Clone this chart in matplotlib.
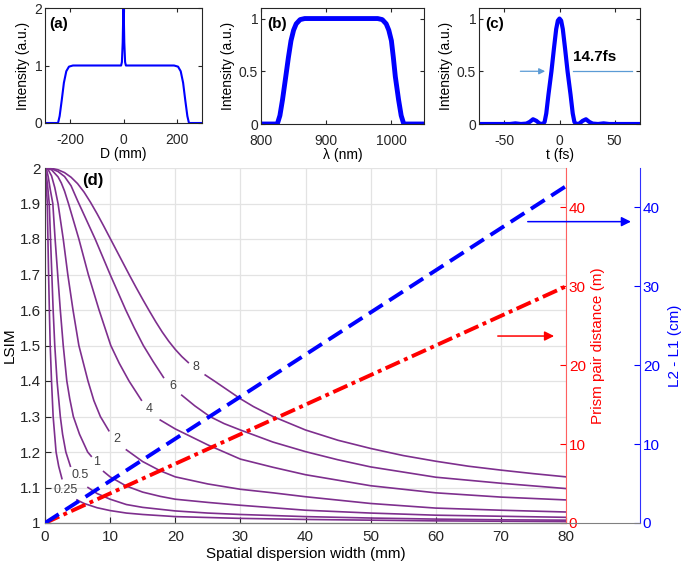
import numpy as np
import matplotlib.pyplot as plt

plt.rcParams['font.family'] = ['Liberation Sans', 'DejaVu Sans']
plt.rcParams['axes.unicode_minus'] = False

# ---- panel (a): beam profile
a_x = [-295, -246, -240, -232, -224, -215, -205, -190, -9, -6, -3, -1, 0,
       1, 3, 6, 9, 190, 205, 215, 224, 232, 240, 246, 295]
a_y = [0, 0, 0.12, 0.4, 0.7, 0.9, 0.98, 1.0, 1.0, 1.06, 1.4, 1.9, 2.0,
       1.9, 1.4, 1.06, 1.0, 1.0, 0.98, 0.9, 0.7, 0.4, 0.12, 0, 0]

# ---- panel (b): spectrum
b_x = [800, 825, 829, 833, 838, 842, 846, 850, 854, 860, 867, 979, 986, 992, 996, 1000,
       1003, 1006, 1011, 1015, 1019, 1050]
b_y = [0, 0, 0.08, 0.23, 0.45, 0.63, 0.79, 0.89, 0.95, 0.99, 1.0, 1.0, 0.99, 0.95, 0.89,
       0.79, 0.63, 0.45, 0.23, 0.08, 0, 0]

# ---- panel (c): pulse
c_x = [-73, -45, -40, -35, -30, -27, -24, -21, -18, -15, -13.5, -12, -10, -7.3, -5, -3,
       -1.5, 0, 1.5, 3, 5, 7.3, 10, 12, 13.5, 15, 18, 21, 24, 27, 30, 35, 40, 45, 73]
c_y = [0, 0, 0.006, 0, 0.004, 0.02, 0.045, 0.03, 0.004, 0, 0.02, 0.1, 0.28, 0.5, 0.72, 0.9,
       0.98, 1.0, 0.98, 0.9, 0.72, 0.5, 0.28, 0.1, 0.02, 0, 0.004, 0.03, 0.045, 0.02, 0.004, 0,
       0.006, 0, 0]

# ---- panel (d): LSIM curves, each split in two pieces around its label
levels = ['8', '6', '4', '2', '1', '0.5', '0.25']
lsim_a_w = [
    [0, 1, 2, 3, 4, 5, 6, 7, 8, 9, 10, 11, 12, 13, 14, 15, 16, 17, 18, 19, 20, 21, 22],
    [0, 1, 2, 3, 4, 5, 6.4, 7.7, 8.85, 10, 11.2, 12.4, 13.7, 15.1, 16.6, 18.2],
    [0, 1, 2, 2.5, 3, 3.6, 4.4, 5.2, 6.65, 8.3, 10.1, 11.4, 12.9, 14.8],
    [0, 0.5, 1, 1.5, 2, 2.8, 3.5, 4.3, 5.2, 5.9, 6.6, 7.5, 8.5, 9.8],
    [0, 0.25, 0.5, 0.8, 1.2, 1.55, 1.95, 2.35, 2.8, 3.35, 3.8, 4.35, 5.3, 6.55, 7.1],
    [0, 0.2, 0.4, 0.65, 0.85, 1.05, 1.25, 1.5, 1.85, 2.35, 2.7, 3.2, 3.9],
    [0, 0.1, 0.2, 0.35, 0.45, 0.55, 0.67, 0.8, 1.0, 1.25, 1.7, 2.1, 2.6],
]
lsim_a_v = [
    [2.0, 1.999, 1.995, 1.987, 1.974, 1.956, 1.932, 1.903, 1.871, 1.837, 1.802, 1.767,
     1.732, 1.697, 1.663, 1.63, 1.598, 1.567, 1.538, 1.512, 1.489, 1.469, 1.452],
    [2.0, 1.998, 1.99, 1.976, 1.95, 1.908, 1.852, 1.80, 1.75, 1.70, 1.65, 1.60, 1.55,
     1.50, 1.455, 1.41],
    [2.0, 1.995, 1.975, 1.958, 1.935, 1.90, 1.85, 1.80, 1.70, 1.60, 1.50, 1.45, 1.40, 1.346],
    [2.0, 1.995, 1.978, 1.945, 1.90, 1.80, 1.70, 1.60, 1.50, 1.45, 1.40, 1.345, 1.30, 1.26],
    [2.0, 1.995, 1.975, 1.94, 1.90, 1.80, 1.70, 1.60, 1.50, 1.40, 1.35, 1.30, 1.25, 1.20,
     1.188],
    [2.0, 1.98, 1.95, 1.90, 1.80, 1.70, 1.60, 1.50, 1.40, 1.30, 1.25, 1.20, 1.16],
    [2.0, 1.98, 1.95, 1.90, 1.80, 1.70, 1.60, 1.50, 1.40, 1.30, 1.20, 1.16, 1.125],
]
lsim_b_w = [
    [24.6, 26, 28, 30, 32, 35, 40, 45, 50, 55, 60, 65, 70, 75, 80],
    [21, 23, 25.3, 27.5, 30, 35, 40, 45, 50, 60, 70, 80],
    [17.7, 20, 25, 30, 35, 40, 50, 60, 70, 80],
    [12.5, 15, 17.7, 20, 25, 30, 35, 40, 50, 60, 70, 80],
    [9, 10, 12.5, 15, 17.7, 20, 25, 30, 40, 50, 60, 70, 80],
    [6.6, 8, 10, 12.5, 15, 20, 25, 30, 40, 50, 60, 70, 80],
    [4.9, 6, 8, 10, 12.5, 15, 20, 30, 40, 50, 60, 70, 80],
]
lsim_b_v = [
    [1.417, 1.40, 1.375, 1.35, 1.328, 1.30, 1.262, 1.233, 1.21, 1.19, 1.174, 1.16, 1.149,
     1.139, 1.130],
    [1.36, 1.33, 1.30, 1.28, 1.262, 1.228, 1.201, 1.178, 1.158, 1.129, 1.112, 1.097],
    [1.29, 1.265, 1.22, 1.18, 1.157, 1.136, 1.105, 1.085, 1.073, 1.065],
    [1.206, 1.173, 1.147, 1.13, 1.11, 1.095, 1.085, 1.074, 1.055, 1.042, 1.036, 1.031],
    [1.145, 1.13, 1.104, 1.087, 1.075, 1.067, 1.058, 1.05, 1.036, 1.028, 1.022, 1.019, 1.016],
    [1.10, 1.083, 1.067, 1.052, 1.044, 1.034, 1.028, 1.024, 1.018, 1.014, 1.011, 1.009, 1.008],
    [1.065, 1.055, 1.043, 1.035, 1.028, 1.024, 1.018, 1.013, 1.01, 1.008, 1.006, 1.005, 1.004],
]
label_w = [23.1, 19.7, 16.0, 11.0, 7.9, 5.4, 3.2]
label_v = [1.44, 1.385, 1.32, 1.237, 1.173, 1.135, 1.093]

# straight lines
width_ends = [0, 80]
prism_ends = [0, 30]      # m
l2l1_ends = [0, 42.7]     # cm

fig = plt.figure(figsize=(6.85, 5.69), dpi=100)
W, H = 685, 569


def px_axes(l, t, r, b):
    return fig.add_axes([l / W, 1 - b / H, (r - l) / W, (b - t) / H])


def style_small(ax):
    ax.tick_params(direction='in', top=True, right=True, labelsize=10,
                   colors='#262626', length=3)
    ax.tick_params(axis='x', pad=7)
    ax.tick_params(axis='y', pad=2)
    for s in ax.spines.values():
        s.set_color('#262626')
        s.set_linewidth(0.8)


blue = '#0000ff'
ax1 = px_axes(45, 8, 202, 123)
ax1.plot(a_x, a_y, color=blue, lw=1.5)
ax1.set_xlim(-295, 295)
ax1.set_ylim(0, 2)
ax1.set_xticks([-200, 0, 200])
ax1.set_yticks([0, 1, 2])
ax1.set_xlabel('D (mm)', fontsize=10, labelpad=0)
ax1.set_ylabel('Intensity (a.u.)', fontsize=10, labelpad=3)
ax1.text(0.03, 0.83, '(a)', transform=ax1.transAxes, fontsize=11, fontweight='bold')
style_small(ax1)

ax2 = px_axes(261, 8, 424, 124)
ax2.plot(b_x, b_y, color=blue, lw=3.5)
ax2.set_xlim(800, 1050)
ax2.set_ylim(0, 1.1)
ax2.set_xticks([800, 900, 1000])
ax2.set_yticks([0, 0.5, 1])
ax2.set_yticklabels(['0', '0.5', '1'])
ax2.set_xlabel('λ (nm)', fontsize=10, labelpad=0)
ax2.set_ylabel('Intensity (a.u.)', fontsize=10, labelpad=3)
ax2.text(0.04, 0.83, '(b)', transform=ax2.transAxes, fontsize=11, fontweight='bold')
style_small(ax2)

ax3 = px_axes(479, 8, 640, 124)
ax3.plot(c_x, c_y, color=blue, lw=3)
ax3.set_xlim(-73, 73)
ax3.set_ylim(0, 1.1)
ax3.set_xticks([-50, 0, 50])
ax3.set_yticks([0, 0.5, 1])
ax3.set_yticklabels(['0', '0.5', '1'])
ax3.set_xlabel('t (fs)', fontsize=10, labelpad=0)
ax3.set_ylabel('Intensity (a.u.)', fontsize=10, labelpad=3)
ax3.text(0.04, 0.83, '(c)', transform=ax3.transAxes, fontsize=11, fontweight='bold')
ax3.annotate('', xy=(-10.5, 0.5), xytext=(-38, 0.5),
             arrowprops=dict(arrowstyle='-|>', color='#5b9bd5', lw=0.9, mutation_scale=9))
ax3.plot([12.5, 66], [0.5, 0.5], color='#5b9bd5', lw=0.9)
ax3.text(12.5, 0.64, '14.7fs', fontsize=11, fontweight='bold', va='center')
style_small(ax3)

# ---- main panel
ax = px_axes(45, 168, 566, 523)
purple = '#7e2f8e'
for i in range(len(levels)):
    ax.plot(lsim_a_w[i], lsim_a_v[i], color=purple, lw=1.2)
    ax.plot(lsim_b_w[i], lsim_b_v[i], color=purple, lw=1.2)
    ax.text(label_w[i], label_v[i], levels[i], fontsize=9, color='#404040',
            ha='center', va='center')
ax.set_xlim(0, 80)
ax.set_ylim(1, 2)
ax.set_xticks(np.arange(0, 81, 10))
ax.set_yticks(np.arange(1, 2.01, 0.1))
ax.set_yticklabels(['1', '1.1', '1.2', '1.3', '1.4', '1.5', '1.6', '1.7', '1.8', '1.9', '2'])
ax.grid(True, color='#e3e3e3', lw=0.9)
ax.set_axisbelow(True)
ax.tick_params(direction='in', labelsize=11, colors='#262626', length=4)
ax.tick_params(axis='x', pad=5)
ax.tick_params(axis='y', pad=3)
for s in ['top', 'right']:
    ax.spines[s].set_visible(False)
for s in ['left', 'bottom']:
    ax.spines[s].set_color('#404040')
ax.set_xlabel('Spatial dispersion width (mm)', fontsize=11, labelpad=2)
ax.set_ylabel('LSIM', fontsize=11, labelpad=2)
ax.text(7.4, 1.965, '(d)', fontsize=12, fontweight='bold', ha='center', va='center')

axr = ax.twinx()
axr.plot(width_ends, prism_ends, color='red', lw=2.8, ls=(0, (4, 1.2, 1, 1.2)))
axr.set_ylim(0, 45)
axr.set_yticks(np.arange(0, 41, 10))
axr.tick_params(direction='in', labelsize=11, colors='red', length=4, pad=2)
for s in ['top', 'left', 'bottom']:
    axr.spines[s].set_visible(False)
axr.spines['right'].set_color('#ff6060')
axr.set_ylabel('Prism pair distance (m)', fontsize=11, color='red', labelpad=4)

axb = px_axes(45, 168, 640, 523)
axb.patch.set_visible(False)
axb.set_xlim(0, 80 * 595 / 521)
axb.set_ylim(0, 45)
axb.plot(width_ends, l2l1_ends, color=blue, lw=2.8, ls=(0, (4.2, 2)))
axb.yaxis.tick_right()
axb.yaxis.set_label_position('right')
axb.set_yticks(np.arange(0, 41, 10))
axb.set_xticks([])
axb.tick_params(direction='in', labelsize=11, colors=blue, length=4, pad=2)
for s in ['top', 'left']:
    axb.spines[s].set_visible(False)
axb.spines['right'].set_color('#3030ff')
axb.spines['bottom'].set_color('#808080')
axb.set_ylabel('L2 - L1 (cm)', fontsize=11, color=blue, labelpad=6)
axb.annotate('', xy=(90.4, 38.2), xytext=(73.7, 38.2),
             arrowprops=dict(arrowstyle='-|>', color=blue, lw=1.1, mutation_scale=14))
axb.annotate('', xy=(78.6, 23.7), xytext=(69.1, 23.7),
             arrowprops=dict(arrowstyle='-|>', color='red', lw=1.1, mutation_scale=14))

fig.savefig('out.png', dpi=100)
